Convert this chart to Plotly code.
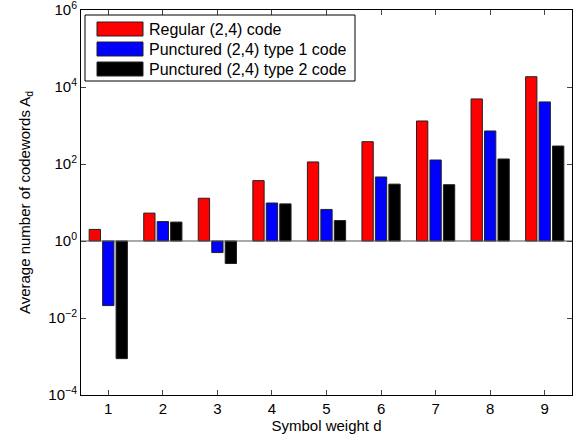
import plotly.graph_objects as go

categories = [1, 2, 3, 4, 5, 6, 7, 8, 9]
series_names = ["Regular (2,4) code", "Punctured (2,4) type 1 code", "Punctured (2,4) type 2 code"]
regular = [2.0, 5.3, 12.9, 37, 113, 380, 1310, 4900, 18500]
type1 = [0.021, 3.2, 0.50, 9.7, 6.6, 46, 127, 720, 4100]
type2 = [0.00088, 3.1, 0.26, 9.2, 3.4, 30, 29, 135, 293]
colors = ["#ff0000", "#0000ff", "#000000"]
ytick_vals = [1e-4, 1e-2, 1, 1e2, 1e4, 1e6]
ytick_text = ["10<sup>\u22124</sup>", "10<sup>\u22122</sup>", "10<sup>0</sup>",
              "10<sup>2</sup>", "10<sup>4</sup>", "10<sup>6</sup>"]
baseline = 1.0

FONT = "Liberation Sans, Arial, Helvetica, sans-serif"

fig = go.Figure()
for name, vals, col in zip(series_names, [regular, type1, type2], colors):
    fig.add_trace(go.Bar(
        x=categories, y=[v - baseline for v in vals], base=[baseline] * len(vals),
        name=name, marker=dict(color=col, line=dict(color="#222222", width=1)),
        showlegend=False,
    ))

# MATLAB-style baseline
fig.add_trace(go.Scatter(x=[0.5, 9.5], y=[baseline, baseline], mode="lines",
                         line=dict(color="#555555", width=1.2), showlegend=False,
                         hoverinfo="skip"))

L, R, T, B = 81, 6, 10, 50
W, H = 578, 445
pw, ph = W - L - R, H - T - B

def px(x):
    return (x - L) / pw

def py(y):
    return (H - B - y) / ph

shapes = [dict(type="rect", xref="paper", yref="paper",
               x0=px(85), x1=px(355), y0=py(81), y1=py(15),
               line=dict(color="black", width=1), fillcolor="white", layer="above")]
annotations = []
rows = [29, 49, 69]
for name, col, yc in zip(series_names, colors, rows):
    shapes.append(dict(type="rect", xref="paper", yref="paper",
                       x0=px(97), x1=px(143), y0=py(yc + 7), y1=py(yc - 7),
                       line=dict(color="#222222", width=1), fillcolor=col, layer="above"))
    annotations.append(dict(xref="paper", yref="paper", x=px(147), y=py(yc),
                            xanchor="left", yanchor="middle", text=name, showarrow=False,
                            font=dict(family=FONT, size=16, color="black")))

fig.update_layout(
    width=W, height=H,
    margin=dict(l=L, r=R, t=T, b=B),
    plot_bgcolor="white", paper_bgcolor="white",
    barmode="group", bargap=0.26, bargroupgap=0.16,
    font=dict(family=FONT, size=15, color="black"),
    shapes=shapes, annotations=annotations,
    xaxis=dict(range=[0.5, 9.5], tickvals=categories, ticks="inside", ticklen=5,
               showline=True, linecolor="black", linewidth=1, mirror="ticks",
               showgrid=False, zeroline=False, automargin=False,
               title=dict(text="Symbol weight d", standoff=4, font=dict(size=15))),
    yaxis=dict(type="log", range=[-4, 6], tickvals=ytick_vals, ticktext=ytick_text,
               ticklabeloverflow="allow", automargin=False,
               ticks="inside", ticklen=5, showline=True, linecolor="black", linewidth=1,
               mirror="ticks", showgrid=False, zeroline=False,
               title=dict(text="Average number of codewords A<sub>d</sub>", standoff=14,
                          font=dict(size=15))),
)

fig.write_html("out.html")
